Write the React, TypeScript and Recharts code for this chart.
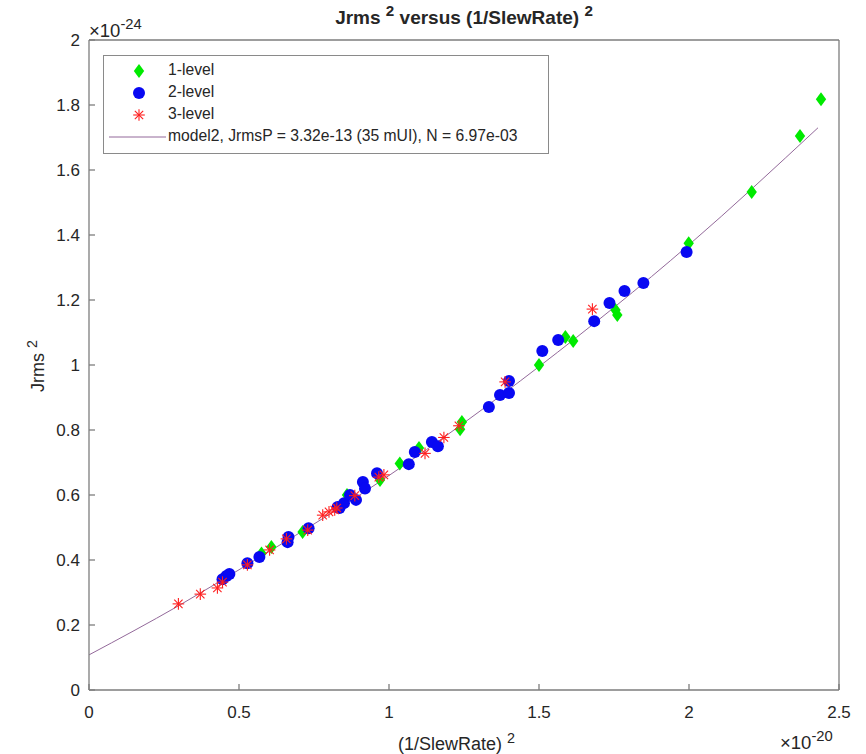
import React from "react";
import { ComposedChart, Line, Scatter, XAxis, YAxis } from "recharts";

// values in units of 1e-20 (x) and 1e-24 (y)
const LEVEL1 = [
  [0.575, 0.42], [0.608, 0.44], [0.712, 0.486], [0.86, 0.6], [0.97, 0.646],
  [1.036, 0.697], [1.1, 0.745], [1.237, 0.802], [1.243, 0.825], [1.5, 1.0],
  [1.588, 1.086], [1.614, 1.074], [1.755, 1.169], [1.761, 1.154], [1.999, 1.375],
  [2.209, 1.532], [2.37, 1.705], [2.44, 1.818],
];
const LEVEL2 = [
  [0.445, 0.341], [0.458, 0.351], [0.468, 0.357], [0.528, 0.39], [0.568, 0.409],
  [0.662, 0.455], [0.665, 0.471], [0.732, 0.498], [0.829, 0.563], [0.835, 0.56],
  [0.85, 0.575], [0.87, 0.6], [0.89, 0.585], [0.913, 0.64], [0.92, 0.62],
  [0.96, 0.667], [1.066, 0.695], [1.086, 0.732], [1.143, 0.763], [1.163, 0.75],
  [1.333, 0.871], [1.37, 0.908], [1.4, 0.914], [1.4, 0.951], [1.511, 1.043],
  [1.564, 1.077], [1.684, 1.135], [1.735, 1.191], [1.785, 1.228], [1.848, 1.252],
  [1.992, 1.348],
];
const LEVEL3 = [
  [0.298, 0.265], [0.371, 0.295], [0.428, 0.314], [0.445, 0.332], [0.528, 0.385],
  [0.602, 0.431], [0.658, 0.465], [0.729, 0.492], [0.779, 0.538], [0.8, 0.548],
  [0.819, 0.554], [0.826, 0.56], [0.886, 0.598], [0.966, 0.655], [0.983, 0.662],
  [1.12, 0.728], [1.183, 0.777], [1.233, 0.813], [1.387, 0.948], [1.678, 1.172],
];
const MODEL = [
  [0, 0.108], [0.3, 0.26], [0.5, 0.37], [1, 0.66], [1.5, 0.995], [2, 1.37], [2.43, 1.73],
];

const X_TICKS = [0, 0.5, 1, 1.5, 2, 2.5];
const Y_TICKS = [0, 0.2, 0.4, 0.6, 0.8, 1, 1.2, 1.4, 1.6, 1.8, 2];

const GREEN = "#00ea00";
const BLUE = "#0808f2";
const RED = "#ff1f1f";
const MODEL_COLOR = "#93699a";
const AXIS = "#7d7d7d";
const TEXT = "#262626";
const FONT = "'Liberation Sans', Arial, sans-serif";

const toPoints = (rows: number[][]) => rows.map(([x, y]) => ({ x, y }));

function Diamond({ cx, cy }: any) {
  return <path d={`M${cx},${cy - 7}L${cx + 5.2},${cy}L${cx},${cy + 7}L${cx - 5.2},${cy}Z`} fill={GREEN} />;
}

function Dot({ cx, cy }: any) {
  return <circle cx={cx} cy={cy} r={6} fill={BLUE} />;
}

function Star({ cx, cy }: any) {
  const r = 5.8;
  const d = r * 0.72;
  return (
    <g stroke={RED} strokeWidth={1.1}>
      <line x1={cx - r} y1={cy} x2={cx + r} y2={cy} />
      <line x1={cx} y1={cy - r} x2={cx} y2={cy + r} />
      <line x1={cx - d} y1={cy - d} x2={cx + d} y2={cy + d} />
      <line x1={cx - d} y1={cy + d} x2={cx + d} y2={cy - d} />
    </g>
  );
}

const Sup = ({ children, size = "0.8em", raise = "0.5em" }: any) => (
  <span style={{ fontSize: size, position: "relative", top: `-${raise}` }}>{children}</span>
);

const tickStyle = { fill: TEXT, fontSize: 17, fontFamily: FONT };

export default function App() {
  const W = 866;
  const H = 754;
  return (
    <div style={{ position: "absolute", left: 0, top: 0, width: W, height: H, background: "#fff", fontFamily: FONT, color: TEXT }}>
      <ComposedChart width={W} height={H} margin={{ top: 30, right: 17, bottom: 34, left: 0 }}>
        <XAxis
          dataKey="x"
          type="number"
          domain={[0, 2.5]}
          ticks={X_TICKS}
          allowDataOverflow
          height={30}
          tickSize={-6}
          tickMargin={22}
          tick={tickStyle}
          tickFormatter={(v: number) => String(v)}
          stroke={AXIS}
          strokeWidth={1.3}
        />
        <XAxis
          xAxisId="top"
          orientation="top"
          dataKey="x"
          type="number"
          domain={[0, 2.5]}
          ticks={X_TICKS}
          height={10}
          tickSize={-6}
          tick={false}
          stroke={AXIS}
          strokeWidth={1.3}
        />
        <YAxis
          dataKey="y"
          type="number"
          domain={[0, 2]}
          ticks={Y_TICKS}
          allowDataOverflow
          width={89}
          tickSize={-6}
          tickMargin={15}
          tick={tickStyle}
          tickFormatter={(v: number) => String(v)}
          stroke={AXIS}
          strokeWidth={1.3}
        />
        <YAxis
          yAxisId="right"
          orientation="right"
          dataKey="y"
          type="number"
          domain={[0, 2]}
          ticks={Y_TICKS}
          width={10}
          tickSize={-6}
          tick={false}
          stroke={AXIS}
          strokeWidth={1.3}
        />
        <Scatter name="1-level" data={toPoints(LEVEL1)} shape={Diamond} isAnimationActive={false} />
        <Scatter name="2-level" data={toPoints(LEVEL2)} shape={Dot} isAnimationActive={false} />
        <Scatter name="3-level" data={toPoints(LEVEL3)} shape={Star} isAnimationActive={false} />
        <Line
          data={toPoints(MODEL)}
          dataKey="y"
          type="monotone"
          stroke={MODEL_COLOR}
          strokeWidth={1}
          dot={false}
          isAnimationActive={false}
        />
      </ComposedChart>

      {/* title */}
      <div style={{ position: "absolute", left: 89, width: 750, top: 8, textAlign: "center", fontWeight: "bold", fontSize: 19, lineHeight: 1, whiteSpace: "nowrap" }}>
        Jrms <Sup>2</Sup> versus (1/SlewRate) <Sup>2</Sup>
      </div>

      {/* exponent labels */}
      <div style={{ position: "absolute", left: 89, top: 22, fontSize: 18.5, lineHeight: 1, whiteSpace: "nowrap" }}>
        ×10<Sup size="0.8em" raise="0.55em">-24</Sup>
      </div>
      <div style={{ position: "absolute", left: 780, top: 734, fontSize: 18.5, lineHeight: 1, whiteSpace: "nowrap" }}>
        ×10<Sup size="0.8em" raise="0.55em">-20</Sup>
      </div>

      {/* axis labels */}
      <div style={{ position: "absolute", left: 398, top: 735, fontSize: 18, lineHeight: 1, whiteSpace: "nowrap" }}>
        (1/SlewRate) <Sup>2</Sup>
      </div>
      <div
        style={{
          position: "absolute",
          left: 38,
          top: 366,
          transform: "translate(-50%, -50%) rotate(-90deg)",
          fontSize: 18,
          lineHeight: 1,
          whiteSpace: "nowrap",
        }}
      >
        Jrms <Sup>2</Sup>
      </div>

      {/* legend */}
      <div style={{ position: "absolute", left: 103, top: 55, width: 444, height: 97, border: "1px solid #8a8a8a", background: "#fff", fontSize: 15.7, lineHeight: 1 }}>
        <svg width={444} height={97} style={{ position: "absolute", left: 0, top: 0 }}>
          <Diamond cx={35} cy={15} />
          <Dot cx={35} cy={37} />
          <Star cx={35} cy={59} />
          <line x1={5} y1={81} x2={62} y2={81} stroke={MODEL_COLOR} strokeWidth={1} />
        </svg>
        {["1-level", "2-level", "3-level", "model2, JrmsP = 3.32e-13 (35 mUI), N = 6.97e-03"].map((t, i) => (
          <div key={t} style={{ position: "absolute", left: 64, top: 15 + i * 22 - 9, whiteSpace: "nowrap" }}>
            {t}
          </div>
        ))}
      </div>
    </div>
  );
}
